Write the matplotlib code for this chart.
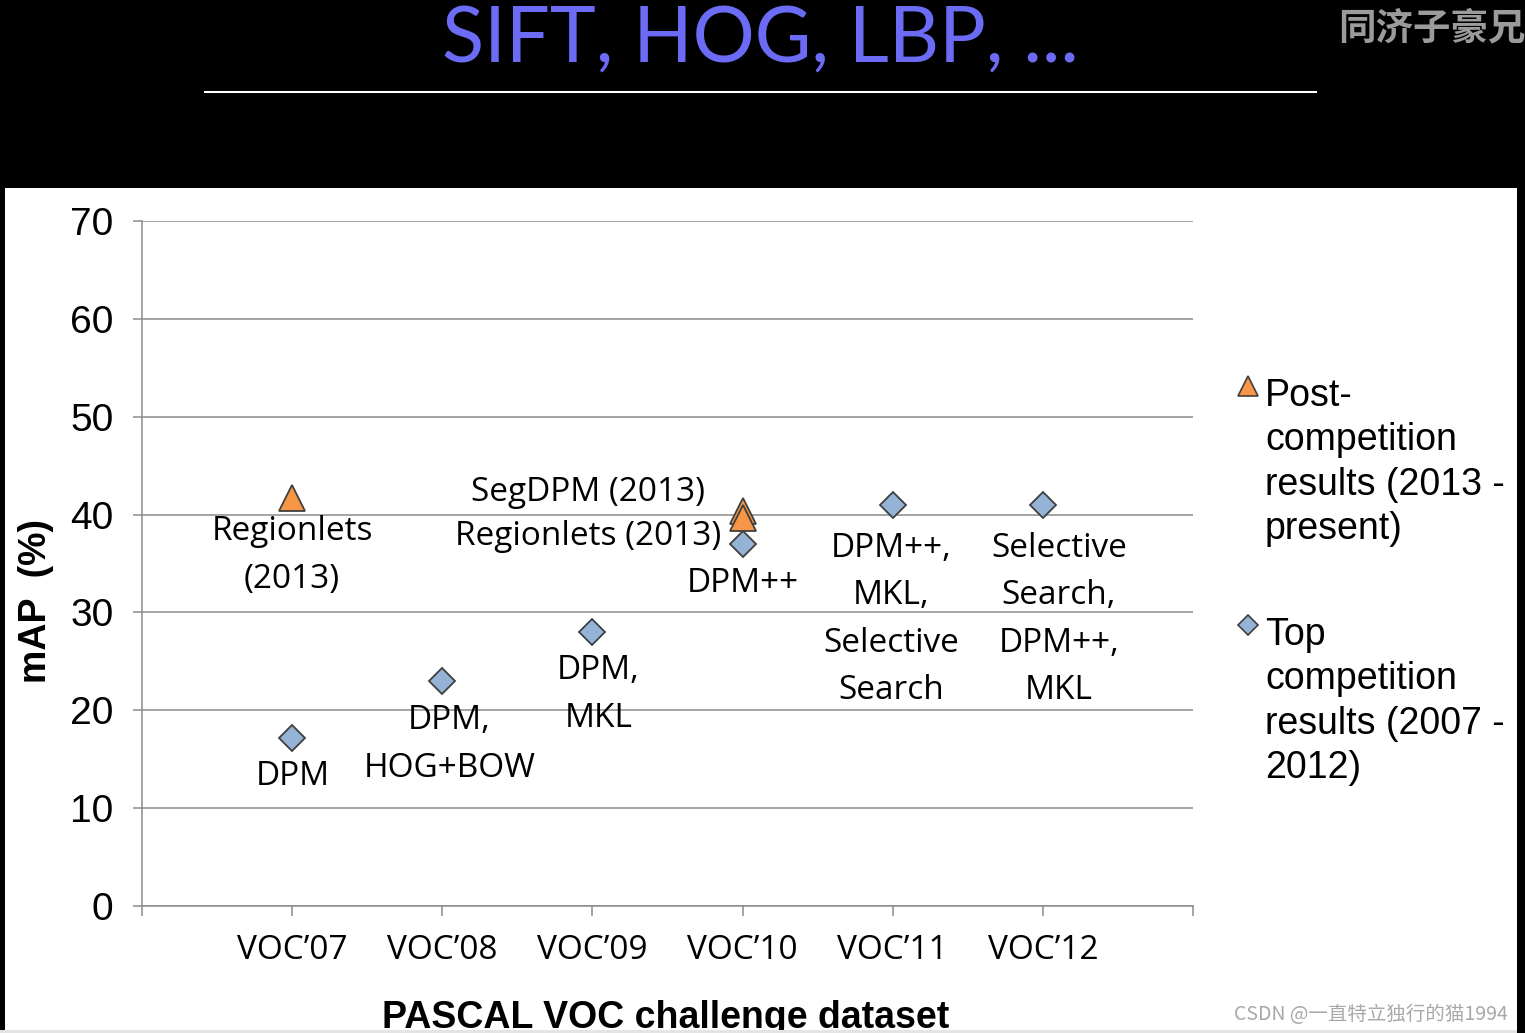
import matplotlib
matplotlib.use("Agg")
import matplotlib.pyplot as plt
from matplotlib.patches import Rectangle
from matplotlib.lines import Line2D
from matplotlib.ticker import FixedLocator

# ---------------- data ----------------
categories = ["VOC’07", "VOC’08", "VOC’09", "VOC’10", "VOC’11", "VOC’12"]
top_results = [17.2, 23.0, 28.0, 37.0, 41.0, 41.0]          # Top competition results (2007-2012)
post_categories = ["VOC’07", "VOC’10", "VOC’10"]
post_results = [41.7, 40.4, 39.7]                             # Post-competition results (2013-present)
y_ticks = [0, 10, 20, 30, 40, 50, 60, 70]

ann_texts = ["Regionlets\n(2013)", "SegDPM (2013)\nRegionlets (2013)", "DPM++",
             "DPM++,\nMKL,\nSelective\nSearch", "Selective\nSearch,\nDPM++,\nMKL",
             "DPM", "DPM,\nHOG+BOW", "DPM,\nMKL"]

legend_labels = ["Post-\ncompetition\nresults (2013 -\npresent)",
                 "Top\ncompetition\nresults (2007 -\n2012)"]

title = "SIFT, HOG, LBP, ..."
xlabel = "PASCAL VOC challenge dataset"
ylabel = "mAP  (%)"

# ---------------- figure ----------------
W, H = 1525, 1033
fig = plt.figure(figsize=(W / 100, H / 100), dpi=100, facecolor="black")

def fx(px):
    return px / W

def fy(py):
    return 1 - py / H

# white slide panel
fig.patches.append(Rectangle((fx(5), fy(1030)), fx(1517) - fx(5), fy(188) - fy(1030),
                             transform=fig.transFigure, facecolor="white",
                             edgecolor="none", zorder=-5))

GRID = "#8c8c8c"
ANN_FONT = "Open Sans"
HELV = "Liberation Sans"

ax = fig.add_axes([fx(142), fy(906), fx(1193) - fx(142), fy(221) - fy(906)])
ax.set_facecolor("none")

xpos = {c: i for i, c in enumerate(categories)}

ax.plot([xpos[c] for c in categories], top_results, linestyle="none", marker="D",
        markersize=13, markerfacecolor="#95B3D7", markeredgecolor="#3f3f3f",
        markeredgewidth=1.3, zorder=4)
ax.plot([xpos[c] for c in post_categories], post_results, linestyle="none", marker="^",
        markersize=19, markerfacecolor="#F79646", markeredgecolor="#3f3f3f",
        markeredgewidth=1.3, zorder=5)

ax.set_xlim(-1, len(categories))
ax.set_ylim(0, 70)
ax.set_yticks(y_ticks)
ax.set_yticklabels([str(v) for v in y_ticks], fontsize=28, family=HELV)
ax.set_xticks(range(len(categories)))
ax.set_xticklabels(categories, fontsize=24, family=ANN_FONT)
ax.xaxis.set_minor_locator(FixedLocator([-1, len(categories)]))

ax.tick_params(axis="y", length=6.5, width=1.1, color=GRID, pad=14, labelcolor="black")
ax.tick_params(axis="x", which="both", length=7.5, width=1.1, color=GRID, pad=12.5,
               labelcolor="black")

for s in ["top", "right"]:
    ax.spines[s].set_visible(False)
for s in ["left", "bottom"]:
    ax.spines[s].set_color(GRID)
    ax.spines[s].set_linewidth(1.1)

ax.yaxis.grid(True, color=GRID, linewidth=1.1)
ax.set_axisbelow(True)

# annotations (x in category units, y in mAP units)
ann_pos = [(0.0, 35.8, "center", 1.58), (2.86, 40.0, "right", 1.42), (3.0, 33.0, "center", 1.58),
           (3.987, 29.3, "center", 1.58), (5.107, 29.3, "center", 1.58), (0.007, 13.2, "center", 1.58),
           (1.047, 16.5, "center", 1.58), (2.04, 21.6, "center", 1.58)]
for txt, (x, y, ha, ls) in zip(ann_texts, ann_pos):
    ax.text(x, y, txt, ha=ha, va="center", multialignment="center", fontsize=24,
            family=ANN_FONT, linespacing=ls, zorder=6)

# axis labels
fig.text(fx(666), fy(1028), xlabel, ha="center", va="baseline", fontsize=27,
         fontweight="bold", family=HELV)
fig.text(fx(36), fy(601), ylabel, ha="center", va="center", rotation=90,
         fontsize=27, fontweight="bold", family=HELV)

# legend (manual, markers aligned with first line)
fig.add_artist(Line2D([fx(1248)], [fy(386)], marker="^", markersize=15,
                      markerfacecolor="#F79646", markeredgecolor="#3f3f3f",
                      markeredgewidth=1.2, linestyle="none", transform=fig.transFigure))
fig.add_artist(Line2D([fx(1248)], [fy(625)], marker="D", markersize=10,
                      markerfacecolor="#95B3D7", markeredgecolor="#3f3f3f",
                      markeredgewidth=1.2, linestyle="none", transform=fig.transFigure))
fig.text(fx(1265), fy(378), legend_labels[0], ha="left", va="top", fontsize=27,
         family=HELV, linespacing=1.30)
fig.text(fx(1265), fy(617), legend_labels[1], ha="left", va="top", fontsize=27,
         family=HELV, linespacing=1.30)

# title area
fig.text(fx(760), fy(62), title, ha="center", va="baseline", fontsize=56,
         color="#6B6BF5", family="Lato", fontweight="normal")
fig.add_artist(Line2D([fx(205), fx(1316)], [fy(92), fy(92)], color="white",
                      linewidth=1.5, transform=fig.transFigure))
fig.text(fx(1338), fy(28), "同济子豪兄", ha="left", va="center", fontsize=27,
         fontweight="bold", color="#9b9b9b", family=["Noto Sans CJK SC", "DejaVu Sans"])
fig.text(fx(1508), fy(1014), "CSDN @一直特立独行的猫1994", ha="right", va="center",
         fontsize=14, color="#a8a8a8", family=["Noto Sans CJK SC", "DejaVu Sans"])

# bottom light strip
fig.patches.append(Rectangle((0, 0), fx(1517), fy(1030), transform=fig.transFigure,
                             facecolor="#e4e4e4", edgecolor="none", zorder=10))

fig.savefig("out.png", dpi=100, facecolor=fig.get_facecolor())
